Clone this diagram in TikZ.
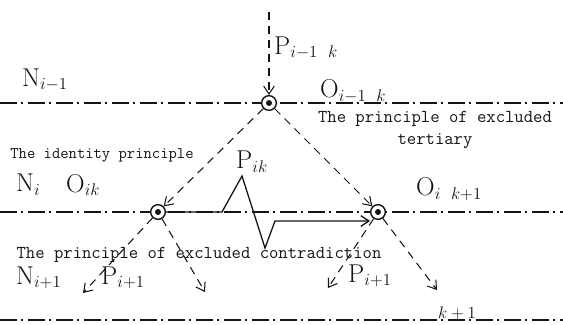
\documentclass[tikz,border=0pt]{standalone}
\usepackage{fontspec}
\usetikzlibrary{arrows.meta,positioning}
\definecolor{ink}{RGB}{20,20,20}
\tikzset{
  >={Straight Barb[length=2.4mm,width=3.2mm]},
  level/.style={ink,line width=1.3pt,dash pattern=on 0.5cm off 0.14cm on 0.06cm off 0.14cm},
  knot/.style={circle,draw=ink,line width=1.2pt,fill=white,minimum size=4.4mm,inner sep=0pt,
    path picture={\fill[ink] (path picture bounding box.center) circle (0.09);}},
  flow/.style={->,ink,line width=0.9pt,dash pattern=on 0.24cm off 0.18cm},
  jump/.style={->,ink,line width=1.1pt},
  lbl/.style={anchor=west,inner sep=0pt,text=ink,font=\fontsize{22}{26}\selectfont},
  tag/.style={text=ink,align=center,inner sep=0pt,font=\fontsize{15.5}{19}\selectfont\ttfamily},
}

\begin{document}
\begin{tikzpicture}
  \useasboundingbox (0,0) rectangle (16.89,9.72);
  % levels
  \foreach \y in {6.63,3.36,0.12} \draw[level] (0,\y) -- (16.89,\y);
  % points
  \node[knot] (top) at (8.07,6.63) {};
  \node[knot] (lc) at (4.74,3.36) {};
  \node[knot] (rc) at (11.34,3.36) {};
  \coordinate (src) at (8.07,9.36);
  \coordinate (ll) at (2.49,0.93); \coordinate (lr) at (6.15,0.96);
  \coordinate (rl) at (9.84,1.08); \coordinate (rr) at (13.11,1.02);
  \draw[flow] (src) -- (top);
  \draw[flow] (top) -- (lc); \draw[flow] (top) -- (rc);
  \draw[flow] (lc) -- (ll); \draw[flow] (lc) -- (lr);
  \draw[flow] (rc) -- (rl); \draw[flow] (rc) -- (rr);
  % contradiction jump
  \coordinate (z1) at (6.66,3.36); \coordinate (z2) at (7.26,4.44);
  \coordinate (z3) at (7.95,2.28); \coordinate (z4) at (8.25,3.09);
  \coordinate (z5) at (11.10,3.09);
  \draw[jump] (lc) -- (z1) -- (z2) -- (z3) -- (z4) -- (z5);
  % labels
  \node[lbl] (pa) at (8.22,8.28) {$\mathrm{P}_{i-1\ \, k}$};
  \node[lbl] (na) at (0.66,7.32) {$\mathrm{N}_{i-1}$};
  \node[lbl] (oa) at (9.6,6.99) {$\mathrm{O}_{i-1\ \, k}$};
  \node[lbl] (pb) at (7.08,4.86) {$\mathrm{P}_{ik}$};
  \node[lbl] (nb) at (0.48,4.17) {$\mathrm{N}_{i}$};
  \node[lbl] (ob) at (1.98,4.17) {$\mathrm{O}_{ik}$};
  \node[lbl] (oc) at (12.48,4.05) {$\mathrm{O}_{i\ \, k+1}$};
  \node[lbl] (nc) at (0.48,1.38) {$\mathrm{N}_{i+1}$};
  \node[lbl] (pc) at (3.03,1.38) {$\mathrm{P}_{i+1}$};
  \node[lbl] (pd) at (10.44,1.44) {$\mathrm{P}_{i+1}$};
  \node[lbl,anchor=center,font=\fontsize{14}{16}\selectfont] (kc) at (13.71,0.33) {$k+1$};
  \node[tag] (tert) at (13.05,5.82) {The principle of excluded\\tertiary};
  \node[tag,font=\fontsize{13.8}{17}\selectfont\ttfamily] (ident) at (3.06,5.07) {The identity principle};
  \node[tag] (contra) at (5.97,2.07) {The principle of excluded contradiction};
\end{tikzpicture}
\end{document}
